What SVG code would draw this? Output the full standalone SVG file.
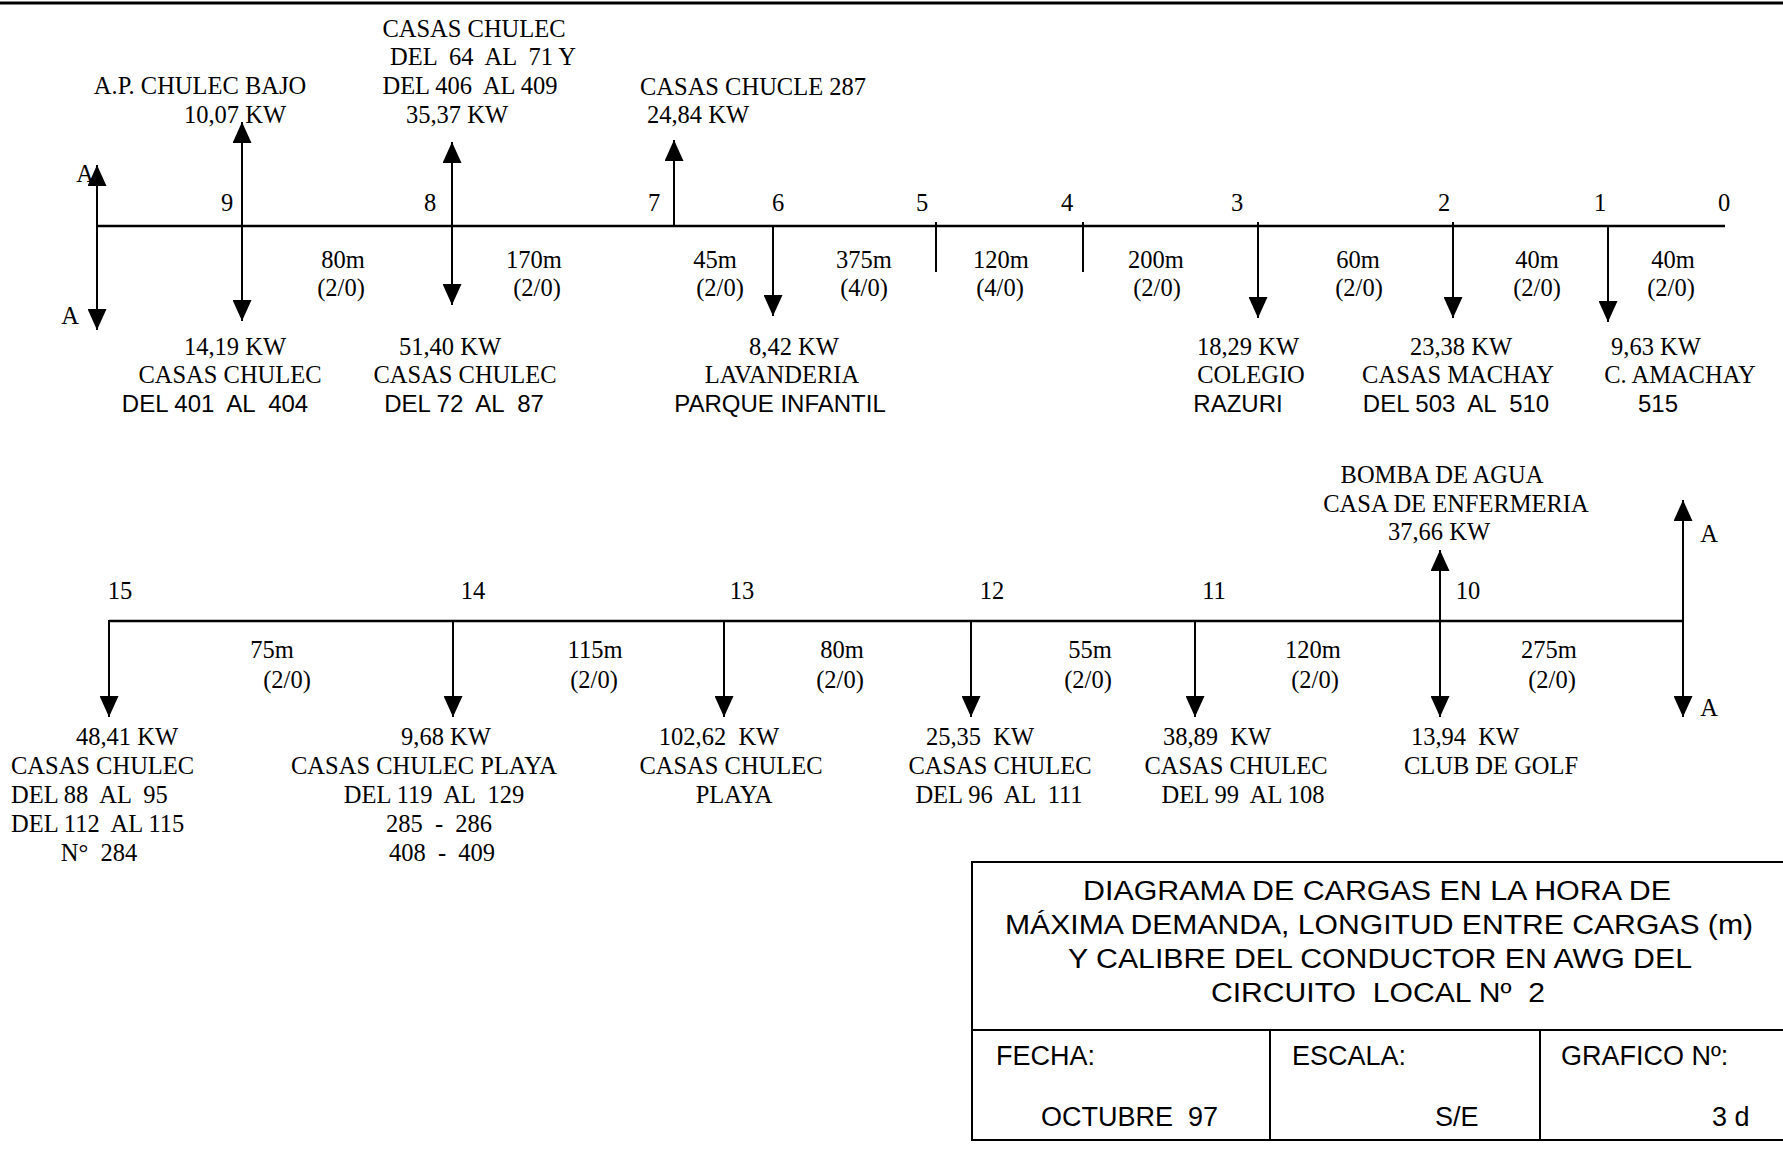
<svg xmlns="http://www.w3.org/2000/svg" width="1783" height="1149" viewBox="0 0 1783 1149">
<style>
text{font-family:"Liberation Serif","Times New Roman",serif;font-size:24.5px;fill:#000;text-anchor:middle;white-space:pre}
.s{font-family:"Liberation Sans",Arial,sans-serif;font-size:24px}
.l{text-anchor:start}
.t{font-family:"Liberation Sans",Arial,sans-serif;font-size:27px}
.c{font-family:"Liberation Sans",Arial,sans-serif;font-size:27px;text-anchor:start}
.feeder{stroke:#000;stroke-width:2.6;fill:none}
.arr{stroke:#000;stroke-width:2;fill:none;marker-end:url(#ah)}
.arr2{stroke:#000;stroke-width:2;fill:none;marker-end:url(#ah);marker-start:url(#ah)}
.tick{stroke:#000;stroke-width:2;fill:none}
.box{stroke:#000;stroke-width:2;fill:none}
</style>
<defs>
<marker id="ah" viewBox="0 0 21 19" refX="21" refY="9.5" markerWidth="21" markerHeight="19" markerUnits="userSpaceOnUse" orient="auto-start-reverse">
<path d="M0,0 L21,9.5 L0,19 z" fill="#000"/>
</marker>
</defs>
<rect width="1783" height="1149" fill="#fff"/>
<line x1="0" y1="3" x2="1783" y2="3" stroke="#000" stroke-width="3"/>

<g id="connectors">
<line class="feeder" x1="97" y1="226" x2="1725" y2="226"/>
<line class="arr2" x1="97" y1="165" x2="97" y2="330"/>
<line class="arr2" x1="242" y1="122" x2="242" y2="321"/>
<line class="arr2" x1="452" y1="142" x2="452" y2="305"/>
<line class="arr" x1="674" y1="226" x2="674" y2="140"/>
<line class="arr" x1="773" y1="226" x2="773" y2="316"/>
<line class="tick" x1="936" y1="222" x2="936" y2="272"/>
<line class="tick" x1="1083" y1="222" x2="1083" y2="272"/>
<line class="arr" x1="1258" y1="222" x2="1258" y2="318"/>
<line class="arr" x1="1453" y1="222" x2="1453" y2="318"/>
<line class="arr" x1="1608" y1="226" x2="1608" y2="322"/>

<line class="feeder" x1="109" y1="621" x2="1683" y2="621"/>
<line class="arr" x1="109" y1="620" x2="109" y2="717"/>
<line class="arr" x1="453" y1="621" x2="453" y2="717"/>
<line class="arr" x1="724" y1="621" x2="724" y2="717"/>
<line class="arr" x1="971" y1="621" x2="971" y2="717"/>
<line class="arr" x1="1195" y1="621" x2="1195" y2="717"/>
<line class="arr2" x1="1440" y1="550" x2="1440" y2="717"/>
<line class="arr2" x1="1683" y1="500" x2="1683" y2="717"/>
</g>

<g id="spans-top">
<text x="343" y="268">80m</text><text x="341" y="296">(2/0)</text>
<text x="534" y="268">170m</text><text x="537" y="296">(2/0)</text>
<text x="715" y="268">45m</text><text x="720" y="296">(2/0)</text>
<text x="864" y="268">375m</text><text x="864" y="296">(4/0)</text>
<text x="1001" y="268">120m</text><text x="1000" y="296">(4/0)</text>
<text x="1156" y="268">200m</text><text x="1157" y="296">(2/0)</text>
<text x="1358" y="268">60m</text><text x="1359" y="296">(2/0)</text>
<text x="1537" y="268">40m</text><text x="1537" y="296">(2/0)</text>
<text x="1673" y="268">40m</text><text x="1671" y="296">(2/0)</text>
</g>

<g id="node-A-top">
<text x="85" y="182">A</text>
<text x="70" y="324">A</text>
</g>
<g id="node-9">
<text x="227" y="211">9</text>
<text x="200" y="94">A.P. CHULEC BAJO</text>
<text x="235" y="123">10,07 KW</text>
<text x="235" y="355">14,19 KW</text>
<text x="230" y="383">CASAS CHULEC</text>
<text class="s" x="215" y="412">DEL 401  AL  404</text>
</g>
<g id="node-8">
<text x="430" y="211">8</text>
<text x="474" y="37">CASAS CHULEC</text>
<text x="483" y="65">DEL  64  AL  71 Y</text>
<text x="470" y="94">DEL 406  AL 409</text>
<text x="457" y="123">35,37 KW</text>
<text x="450" y="355">51,40 KW</text>
<text x="465" y="383">CASAS CHULEC</text>
<text class="s" x="464" y="412">DEL 72  AL  87</text>
</g>
<g id="node-7">
<text x="654" y="211">7</text>
<text x="753" y="95">CASAS CHUCLE 287</text>
<text x="698" y="123">24,84 KW</text>
</g>
<g id="node-6">
<text x="778" y="211">6</text>
<text x="794" y="355">8,42 KW</text>
<text x="782" y="383">LAVANDERIA</text>
<text class="s" x="780" y="412">PARQUE INFANTIL</text>
</g>
<g id="node-5"><text x="922" y="211">5</text></g>
<g id="node-4"><text x="1067" y="211">4</text></g>
<g id="node-3">
<text x="1237" y="211">3</text>
<text x="1248" y="355">18,29 KW</text>
<text x="1251" y="383">COLEGIO</text>
<text class="s" x="1238" y="412">RAZURI</text>
</g>
<g id="node-2">
<text x="1444" y="211">2</text>
<text x="1461" y="355">23,38 KW</text>
<text x="1458" y="383">CASAS MACHAY</text>
<text class="s" x="1456" y="412">DEL 503  AL  510</text>
</g>
<g id="node-1">
<text x="1600" y="211">1</text>
<text x="1656" y="355">9,63 KW</text>
<text x="1680" y="383">C. AMACHAY</text>
<text class="s" x="1658" y="412">515</text>
</g>
<g id="node-0"><text x="1724" y="211">0</text></g>

<g id="spans-bottom">
<text x="272" y="658">75m</text><text x="287" y="688">(2/0)</text>
<text x="595" y="658">115m</text><text x="594" y="688">(2/0)</text>
<text x="842" y="658">80m</text><text x="840" y="688">(2/0)</text>
<text x="1090" y="658">55m</text><text x="1088" y="688">(2/0)</text>
<text x="1313" y="658">120m</text><text x="1315" y="688">(2/0)</text>
<text x="1549" y="658">275m</text><text x="1552" y="688">(2/0)</text>
</g>

<g id="node-15">
<text x="120" y="599">15</text>
<text x="127" y="745">48,41 KW</text>
<text class="l" x="11" y="774">CASAS CHULEC</text>
<text class="l" x="11" y="803">DEL 88  AL  95</text>
<text class="l" x="11" y="832">DEL 112  AL 115</text>
<text x="99" y="861">N°  284</text>
</g>
<g id="node-14">
<text x="473" y="599">14</text>
<text x="446" y="745">9,68 KW</text>
<text x="424" y="774">CASAS CHULEC PLAYA</text>
<text x="434" y="803">DEL 119  AL  129</text>
<text x="439" y="832">285  -  286</text>
<text x="442" y="861">408  -  409</text>
</g>
<g id="node-13">
<text x="742" y="599">13</text>
<text x="719" y="745">102,62  KW</text>
<text x="731" y="774">CASAS CHULEC</text>
<text x="734" y="803">PLAYA</text>
</g>
<g id="node-12">
<text x="992" y="599">12</text>
<text x="980" y="745">25,35  KW</text>
<text x="1000" y="774">CASAS CHULEC</text>
<text x="999" y="803">DEL 96  AL  111</text>
</g>
<g id="node-11">
<text x="1214" y="599">11</text>
<text x="1217" y="745">38,89  KW</text>
<text x="1236" y="774">CASAS CHULEC</text>
<text x="1243" y="803">DEL 99  AL 108</text>
</g>
<g id="node-10">
<text x="1468" y="599">10</text>
<text x="1442" y="483">BOMBA DE AGUA</text>
<text x="1456" y="512">CASA DE ENFERMERIA</text>
<text x="1439" y="540">37,66 KW</text>
<text x="1465" y="745">13,94  KW</text>
<text x="1491" y="774">CLUB DE GOLF</text>
</g>
<g id="node-A-bottom">
<text x="1709" y="542">A</text>
<text x="1709" y="716">A</text>
</g>

<g id="title-block">
<path class="box" d="M1783,862 H972 V1140 H1783 M972,1030 H1783 M1270,1030 V1140 M1540,1030 V1140"/>
<text class="t" x="1377" y="900" textLength="588" lengthAdjust="spacingAndGlyphs">DIAGRAMA DE CARGAS EN LA HORA DE</text>
<text class="t" x="1379" y="934" textLength="748" lengthAdjust="spacingAndGlyphs">MÁXIMA DEMANDA, LONGITUD ENTRE CARGAS (m)</text>
<text class="t" x="1380" y="968" textLength="624" lengthAdjust="spacingAndGlyphs">Y CALIBRE DEL CONDUCTOR EN AWG DEL</text>
<text class="t" x="1378" y="1002" textLength="334" lengthAdjust="spacingAndGlyphs">CIRCUITO  LOCAL Nº  2</text>
<text class="c" x="996" y="1065">FECHA:</text>
<text class="c" x="1292" y="1065">ESCALA:</text>
<text class="c" x="1561" y="1065">GRAFICO Nº:</text>
<text class="c" x="1041" y="1126">OCTUBRE  97</text>
<text class="c" x="1435" y="1126">S/E</text>
<text class="c" x="1712" y="1126">3 d</text>
</g>
</svg>
